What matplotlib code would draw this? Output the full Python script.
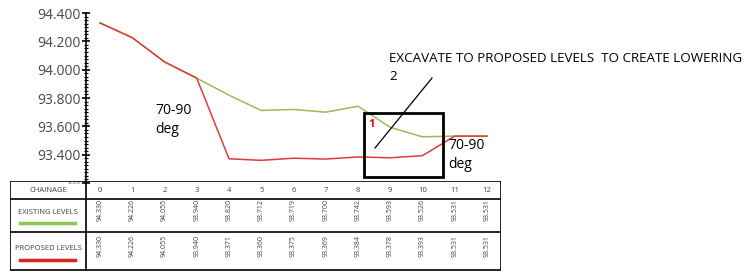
import matplotlib.pyplot as plt
from matplotlib.patches import Rectangle
import numpy as np

plt.rcParams['font.family'] = ['Open Sans', 'DejaVu Sans']

chainage = [0, 1, 2, 3, 4, 5, 6, 7, 8, 9, 10, 11, 12]
existing = [94.330, 94.226, 94.055, 93.940, 93.820, 93.712, 93.719, 93.700, 93.742, 93.593, 93.526, 93.531, 93.531]
proposed = [94.330, 94.226, 94.055, 93.940, 93.371, 93.360, 93.375, 93.369, 93.384, 93.378, 93.393, 93.531, 93.531]
yticks = [93.2, 93.4, 93.6, 93.8, 94.0, 94.2, 94.4]

W, H = 749, 273
fig = plt.figure(figsize=(W / 100, H / 100), dpi=100)

def fx(px):
    return px / W

def fy(py):
    return 1 - py / H

green = '#9bbb59'
red = '#e03a3a'

# chart
x0px = 100.0
step = 32.25
ax_l, ax_r = 86, 501
ax = fig.add_axes([fx(ax_l), fy(183), fx(ax_r - ax_l), (183 - 13) / H])
ax.set_xlim((ax_l - x0px) / step, (ax_r - x0px) / step)
ax.set_ylim(93.2, 94.4)
ax.plot(chainage, existing, color=green, lw=1.1)
ax.plot(chainage, proposed, color=red, lw=1.1)
for s in ['top', 'right', 'bottom']:
    ax.spines[s].set_visible(False)
ax.spines['left'].set_linewidth(1.2)
ax.set_xticks([])
ax.set_yticks(yticks)
ax.set_yticklabels(['%.3f' % v for v in yticks], fontsize=10, color='#4a4a4a')
ax.yaxis.get_ticklabels()[0].set_fontsize(3)
ax.set_yticks(np.arange(93.2, 94.401, 0.025), minor=True)
ax.tick_params(axis='y', which='major', direction='inout', length=6, width=1.2, pad=1)
ax.tick_params(axis='y', which='minor', direction='inout', length=3.5, width=0.8)
ax.patch.set_alpha(0)

# annotations
fig.text(fx(155), fy(120), '70-90\ndeg', fontsize=10, va='center', ha='left', linespacing=1.3)
fig.text(fx(448), fy(155), '70-90\ndeg', fontsize=10, va='center', ha='left', linespacing=1.3)
fig.text(fx(389), fy(58), 'EXCAVATE TO PROPOSED LEVELS  TO CREATE LOWERING', fontsize=9.65, va='center', ha='left')
fig.text(fx(389), fy(77), '2', fontsize=9.65, va='center', ha='left')
fig.add_artist(Rectangle((fx(364), fy(177)), fx(443 - 364), (177 - 113) / H,
                         fill=False, ec='black', lw=2, transform=fig.transFigure))
fig.text(fx(372), fy(125), '1', fontsize=8, color='red', fontweight='bold', va='center', ha='center')
fig.add_artist(plt.Line2D([fx(375), fx(432)], [fy(148), fy(78)], color='black', lw=0.9,
                          transform=fig.transFigure))

# table
tl, tr = 10, 501
tb = fig.add_axes([fx(tl), fy(271), fx(tr - tl), (271 - 181) / H])
tb.set_xlim((tl - x0px) / step, (tr - x0px) / step)
tb.set_ylim(271, 181)
tb.axis('off')
rows = [181, 199, 232, 270]
for r in rows:
    tb.plot([(tl - x0px) / step, (tr - x0px) / step], [r, r], color='black', lw=1.2)
for xp in [tl, 86, tr]:
    tb.plot([(xp - x0px) / step] * 2, [181, 270], color='black', lw=1.2)
lab_x = (48 - x0px) / step
tb.text(lab_x, 190, 'CHAINAGE', fontsize=5.5, ha='center', va='center', color='#404040')
tb.text(lab_x, 213, 'EXISTING LEVELS', fontsize=5.5, ha='center', va='center', color='#404040')
tb.text(lab_x, 249, 'PROPOSED LEVELS', fontsize=5.5, ha='center', va='center', color='#404040')
tb.plot([(20 - x0px) / step, (75 - x0px) / step], [223, 223], color='#8cc455', lw=2.5)
tb.plot([(20 - x0px) / step, (75 - x0px) / step], [260, 260], color='#e02020', lw=2.5)
for c, e, p in zip(chainage, existing, proposed):
    tb.text(c, 190, str(c), fontsize=5.5, ha='center', va='center', color='#404040')
    tb.text(c, 210, '%.3f' % e, fontsize=5, rotation=90, ha='center', va='center', color='#404040')
    tb.text(c, 246, '%.3f' % p, fontsize=5, rotation=90, ha='center', va='center', color='#404040')

fig.savefig('out.png', dpi=100)
